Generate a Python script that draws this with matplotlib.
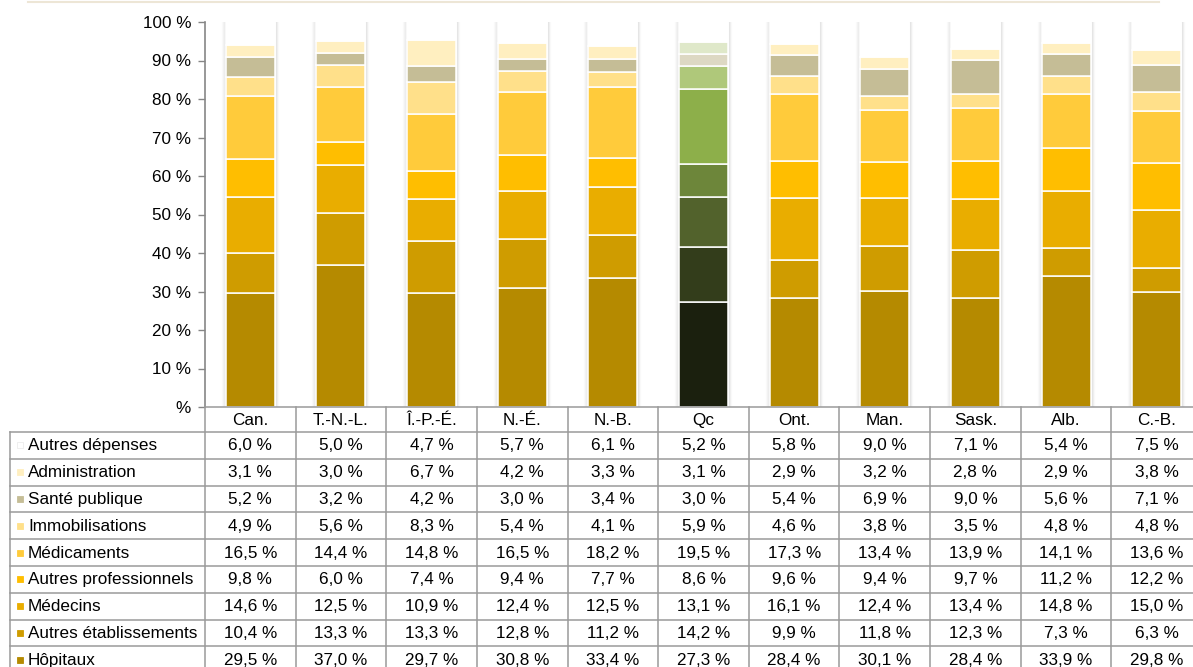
import matplotlib.pyplot as plt
import matplotlib.patheffects as pe
from matplotlib.patches import Rectangle

plt.rcParams['font.family'] = ['Liberation Sans', 'DejaVu Sans']

# Répartition des dépenses de santé par province (% du total)
provinces = ["Can.", "T.-N.-L.", "Î.-P.-É.", "N.-É.", "N.-B.", "Qc",
             "Ont.", "Man.", "Sask.", "Alb.", "C.-B."]

hopitaux = [29.5, 37.0, 29.7, 30.8, 33.4, 27.3, 28.4, 30.1, 28.4, 33.9, 29.8]
autres_etab = [10.4, 13.3, 13.3, 12.8, 11.2, 14.2, 9.9, 11.8, 12.3, 7.3, 6.3]
medecins = [14.6, 12.5, 10.9, 12.4, 12.5, 13.1, 16.1, 12.4, 13.4, 14.8, 15.0]
autres_prof = [9.8, 6.0, 7.4, 9.4, 7.7, 8.6, 9.6, 9.4, 9.7, 11.2, 12.2]
medicaments = [16.5, 14.4, 14.8, 16.5, 18.2, 19.5, 17.3, 13.4, 13.9, 14.1, 13.6]
immobilisations = [4.9, 5.6, 8.3, 5.4, 4.1, 5.9, 4.6, 3.8, 3.5, 4.8, 4.8]
sante_publique = [5.2, 3.2, 4.2, 3.0, 3.4, 3.0, 5.4, 6.9, 9.0, 5.6, 7.1]
administration = [3.1, 3.0, 6.7, 4.2, 3.3, 3.1, 2.9, 3.2, 2.8, 2.9, 3.8]
autres_depenses = [6.0, 5.0, 4.7, 5.7, 6.1, 5.2, 5.8, 9.0, 7.1, 5.4, 7.5]

# bottom-to-top stacking order
series = [
    ("Hôpitaux", hopitaux),
    ("Autres établissements", autres_etab),
    ("Médecins", medecins),
    ("Autres professionnels", autres_prof),
    ("Médicaments", medicaments),
    ("Immobilisations", immobilisations),
    ("Santé publique", sante_publique),
    ("Administration", administration),
    ("Autres dépenses", autres_depenses),
]
gold = ["#b58a00", "#cf9c00", "#e9ad00", "#ffbe00", "#ffcb3b",
        "#ffe08a", "#c5bd96", "#ffefc0", "#ffffff"]
green = ["#1b200e", "#333d1b", "#52622c", "#6d863a", "#8daf4a",
         "#afc87a", "#ddd8c3", "#dfe8c9", "#ffffff"]
qc_index = provinces.index("Qc")

FS = 12.3
W, H = 1193, 667
fig = plt.figure(figsize=(W / 100, H / 100), dpi=100)

x0, xw = 205, 997          # plot area in pixels
y_top, y_base = 22, 407
ax = fig.add_axes([x0 / W, (H - y_base) / H, xw / W, (y_base - y_top) / H])

n = len(provinces)
xs = list(range(n))
bar_w = 0.54

# white column with soft shadow behind each stack
totals = [sum(s[1][i] for s in series) for i in range(n)]
shadow = [pe.Stroke(linewidth=6, foreground="black", alpha=0.025),
          pe.Stroke(linewidth=4, foreground="black", alpha=0.035),
          pe.Stroke(linewidth=2.5, foreground="black", alpha=0.045),
          pe.Normal()]
bg = ax.bar(xs, totals, width=bar_w, color="white", edgecolor="white",
            linewidth=0.5, zorder=1)
for p in bg:
    p.set_path_effects(shadow)

bottom = [0.0] * n
for k, (name, vals) in enumerate(series):
    cols = [green[k] if i == qc_index else gold[k] for i in range(n)]
    ax.bar(xs, vals, bottom=bottom, width=bar_w, color=cols,
           edgecolor="white", linewidth=1.1, zorder=2)
    bottom = [b + v for b, v in zip(bottom, vals)]

ax.set_xlim(-0.5, n - 0.5)
ax.set_ylim(0, 100)
ax.set_yticks(range(0, 101, 10))
ax.set_yticklabels(["%"] + [f"{v} %" for v in range(10, 101, 10)], fontsize=FS)
ax.tick_params(axis="y", length=5, width=1, color="#868686", pad=5)
ax.set_xticks([])
for s in ["top", "right", "bottom"]:
    ax.spines[s].set_visible(False)
ax.spines["left"].set_color("#868686")
ax.spines["left"].set_linewidth(1.2)

# data table drawn underneath, in pixel rows
tab_h = 673 - y_base
tab = fig.add_axes([x0 / W, (H - 673) / H, xw / W, tab_h / H])
tab.set_xlim(-0.5, n - 0.5)
tab.set_ylim(tab_h, 0)
tab.axis("off")

px = n / xw                # category units per pixel
left = -0.5 - (x0 - 10) * px
right = n - 0.5
head_h = 25
row_h = 26.8
line_kw = dict(color="#9a9a9a", linewidth=1.1, clip_on=False)

rows = list(reversed(series))
row_tops = [head_h + r * row_h for r in range(len(rows) + 1)]

# header row with province names
tab.plot([-0.5, right], [0, 0], **line_kw)
for i, name in enumerate(provinces):
    tab.text(i, head_h / 2 + 1, name, ha="center", va="center", fontsize=FS)
for yv in row_tops:
    tab.plot([left, right], [yv, yv], **line_kw)
tab.plot([left, left], [head_h, row_tops[-1]], **line_kw)
for i in range(n + 1):
    tab.plot([i - 0.5, i - 0.5], [0, row_tops[-1]], **line_kw)

# one row per category: legend key, label, values
for r, (name, vals) in enumerate(rows):
    yc = row_tops[r] + row_h / 2
    k = len(series) - 1 - r
    tab.add_patch(Rectangle((left + 7 * px, yc - 3), 6 * px, 6,
                            facecolor=gold[k],
                            edgecolor="#ececec" if gold[k] == "#ffffff" else gold[k],
                            linewidth=0.6, clip_on=False))
    tab.text(left + 18 * px, yc + 0.5, name, ha="left", va="center",
             fontsize=FS)
    for i, v in enumerate(vals):
        tab.text(i, yc + 0.5, f"{v:.1f} %".replace(".", ","),
                 ha="center", va="center", fontsize=FS)

# thin rule at the very top
fig.add_artist(plt.Line2D([28 / W, 1159 / W], [1 - 1.5 / H, 1 - 1.5 / H],
                          color="#ede6d6", linewidth=1.5))

fig.savefig("out.png", dpi=100)
